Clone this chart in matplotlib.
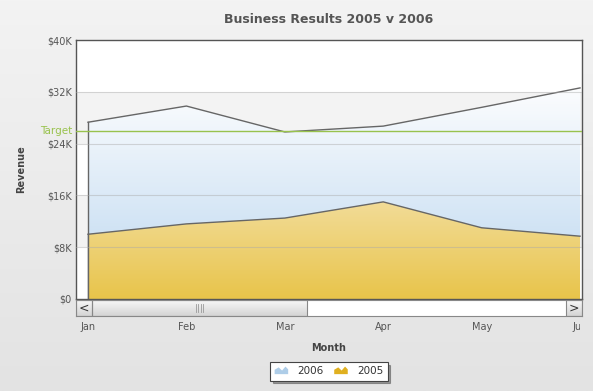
import matplotlib
matplotlib.use("Agg")
import matplotlib.pyplot as plt
import numpy as np
from matplotlib.patches import Rectangle, Polygon
from matplotlib.colors import LinearSegmentedColormap
from matplotlib.legend_handler import HandlerBase

months = ["Jan", "Feb", "Mar", "Apr", "May", "Jun"]
rev_2006 = [27.3, 29.8, 25.8, 26.7, 29.6, 32.6]
rev_2005 = [10.0, 11.6, 12.5, 15.0, 11.0, 9.7]
target = 25.9
yticks = [0, 8, 16, 24, 32, 40]
ytick_labels = ["$0", "$8K", "$16K", "$24K", "$32K", "$40K"]

W, H = 593, 391
fig = plt.figure(figsize=(W / 100, H / 100), dpi=100)
plt.rcParams['font.family'] = ['DejaVu Sans']

# figure background gradient
bg = fig.add_axes([0, 0, 1, 1], zorder=-10)
grad = np.linspace(0, 1, 256).reshape(-1, 1)
bg_cmap = LinearSegmentedColormap.from_list("bg", ["#f3f3f3", "#e3e3e3"])
bg.imshow(grad, aspect="auto", cmap=bg_cmap, extent=[0, 1, 0, 1], origin="upper")
bg.set_axis_off()

def fx(px):
    return px / W

def fy(py):
    return (H - py) / H

L, R, T, B = 76, 582, 40, 299
ax = fig.add_axes([fx(L), fy(B), fx(R) - fx(L), fy(T) - fy(B)])
x = np.arange(len(months))
ax.set_xlim(-0.122, 5.02)
ax.set_ylim(0, 40)

# alternating bands
for i in range(len(yticks) - 1):
    c = "#ffffff" if i % 2 == 0 else "#f3f3f3"
    ax.axhspan(yticks[i], yticks[i + 1], color=c, zorder=0, lw=0)

def grad_fill(ax, xs, ys, c_top, c_bot, ytop, z):
    poly = ax.fill_between(xs, 0, ys, color="none", lw=0, zorder=z)
    cmap = LinearSegmentedColormap.from_list("g", [c_top, c_bot])
    im = ax.imshow(grad, aspect="auto", cmap=cmap,
                   extent=[xs[0], xs[-1], 0, ytop], origin="upper", zorder=z)
    path = poly.get_paths()[0]
    im.set_clip_path(path, transform=ax.transData)
    ax.plot(xs, ys, color="#666666", lw=1.0, zorder=z + 0.5)
    ax.plot([xs[0], xs[0]], [0, ys[0]], color="#666666", lw=1.0, zorder=z + 0.5)

grad_fill(ax, x, rev_2006, "#fcfdfe", "#bcd7f0", max(rev_2006), 1)
grad_fill(ax, x, rev_2005, "#f2dc98", "#e8c44a", max(rev_2005), 2)

# gridlines on top
for yv in yticks[1:-1]:
    ax.axhline(yv, color="#aaaaaa", lw=0.8, alpha=0.45, zorder=4)
ax.axhline(target, color="#99c24d", lw=1.0, zorder=5)
ax.text(-0.008, target, "Target", transform=ax.get_yaxis_transform(),
        ha="right", va="center", color="#99c24d", fontsize=7.5)

ax.set_yticks(yticks)
ax.set_yticklabels(ytick_labels, fontsize=7, color="#555555")
ax.tick_params(axis="y", length=0, pad=3)
ax.set_xticks([])
for s in ax.spines.values():
    s.set_color("#555555")
    s.set_linewidth(1.0)
ax.set_ylabel("Revenue", fontsize=7, fontweight="bold", color="#444444", labelpad=15)

# scrollbar
sb = fig.add_axes([fx(L), fy(316), fx(R) - fx(L), fy(300) - fy(316)])
sb.set_xlim(ax.get_xlim())
sb.set_ylim(0, 1)
sb.set_facecolor("white")
tA = sb.transAxes
bw = 16 / (R - L)
thumb_end = (307 - L) / (R - L)
cm_btn = LinearSegmentedColormap.from_list("b", ["#f8f8f8", "#d4d4d4"])
for (x0, x1) in [(0, bw), (bw, thumb_end), (1 - bw, 1)]:
    sb.imshow(grad, aspect="auto", cmap=cm_btn, extent=[x0, x1, 0, 1],
              origin="upper", transform=tA, zorder=1)
    sb.add_patch(Rectangle((x0, 0), x1 - x0, 1, transform=tA, fill=False,
                           ec="#888888", lw=0.8, zorder=2))
sb.text(bw / 2, 0.5, "<", transform=tA, ha="center", va="center",
        fontsize=9, color="#333333", zorder=3)
sb.text(1 - bw / 2, 0.5, ">", transform=tA, ha="center", va="center",
        fontsize=9, color="#333333", zorder=3)
mid = (bw + thumb_end) / 2
for k in range(4):
    xx = mid + (k - 1.5) * 2.5 / (R - L)
    sb.plot([xx, xx], [0.28, 0.72], transform=tA, color="#999999", lw=0.6, zorder=3)
sb.set_xticks(x)
sb.set_xticklabels(months, fontsize=7, color="#555555")
sb.tick_params(axis="x", length=0, pad=4)
sb.set_yticks([])
for s in sb.spines.values():
    s.set_color("#888888")
    s.set_linewidth(0.8)
clip_rect = Rectangle((0, 0), fx(R - 2), 1, transform=fig.transFigure)
for lab in sb.get_xticklabels():
    lab.set_clip_path(clip_rect)
sb.set_xlabel("Month", fontsize=7, fontweight="bold", color="#444444", labelpad=8)

fig.suptitle("Business Results 2005 v 2006", x=fx(329), y=fy(13), va="top",
             fontsize=9, fontweight="bold", color="#555555")

# legend with area icons
class AreaIcon(HandlerBase):
    def __init__(self, fc):
        super().__init__()
        self.fc = fc
    def create_artists(self, legend, orig, xd, yd, w, h, fontsize, trans):
        pts = [(xd, yd), (xd, yd + h * 0.55), (xd + w * 0.3, yd + h * 0.85),
               (xd + w * 0.55, yd + h * 0.45), (xd + w * 0.8, yd + h * 0.95),
               (xd + w, yd + h * 0.6), (xd + w, yd)]
        p = Polygon(pts, closed=True, fc=self.fc, ec="none", transform=trans)
        return [p]

h06 = Rectangle((0, 0), 1, 1)
h05 = Rectangle((0, 0), 1, 1)
leg = fig.legend([h06, h05], ["2006", "2005"], loc="center",
                 bbox_to_anchor=(fx(329), fy(371.5)), ncol=2, fontsize=7.5,
                 frameon=True, fancybox=False, shadow=True,
                 handlelength=1.3, handleheight=0.8, handletextpad=0.9,
                 columnspacing=1.0, borderpad=0.4,
                 handler_map={h06: AreaIcon("#aecde8"), h05: AreaIcon("#e0b020")})
leg.get_frame().set_edgecolor("#444444")
leg.get_frame().set_linewidth(0.8)
for t in leg.get_texts():
    t.set_color("#333333")

fig.savefig("out.png", dpi=100)
